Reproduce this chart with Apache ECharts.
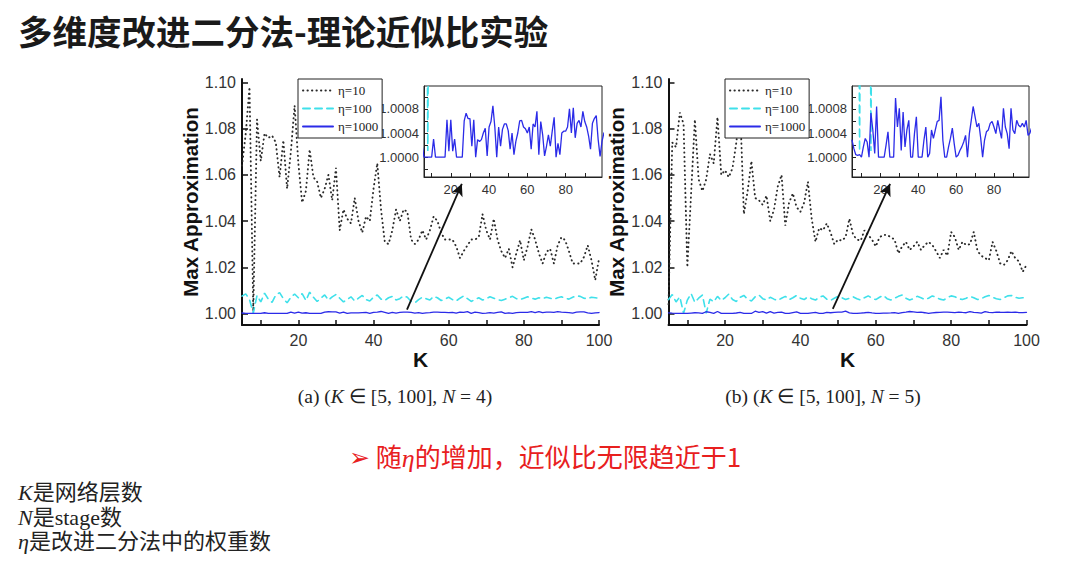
<!DOCTYPE html>
<html>
<head>
<meta charset="utf-8">
<script src="https://cdn.jsdelivr.net/npm/echarts@6/dist/echarts.min.js"></script>
<style>
  html,body{margin:0;padding:0;background:#fff;width:1080px;height:572px;overflow:hidden;}
  #chart{position:absolute;left:0;top:0;width:1080px;height:572px;}
  .t{position:absolute;white-space:nowrap;}
  #title{left:18px;top:10px;font:bold 34.5px "Noto Sans CJK SC",sans-serif;color:#1a1a1a;line-height:40px;}
  .cap{top:384px;font:19.5px "Liberation Serif",serif;color:#222;line-height:26px;transform:translateX(-50%);}
  .cap i{font-style:italic;}
  #red{left:349px;top:439px;font:26px "Noto Sans CJK SC",sans-serif;color:#e8201e;line-height:34px;}
  #red i{font-family:"Liberation Serif",serif;font-style:italic;}
  #red .b{font-size:25px;vertical-align:1px;font-family:"DejaVu Sans",sans-serif;}
  #notes{left:18px;top:481px;font:22px "Liberation Serif","Noto Sans CJK SC",serif;color:#222;line-height:24.5px;}
  #notes i{font-style:italic;}
</style>
</head>
<body>
<div id="chart"></div>
<div class="t" id="title">多维度改进二分法-理论近似比实验</div>
<div class="t cap" style="left:395px">(a) (<i>K</i> ∈ [5, 100], <i>N</i> = 4)</div>
<div class="t cap" style="left:823px">(b) (<i>K</i> ∈ [5, 100], <i>N</i> = 5)</div>
<div class="t" id="red"><span class="b">➢</span>&nbsp;随<i>η</i>的增加，近似比无限趋近于1</div>
<div class="t" id="notes"><i>K</i>是网络层数<br><i>N</i>是stage数<br><i>η</i>是改进二分法中的权重数</div>
<script>
// ---------- data ----------
const K = [5,6,7,8,9,10,11,12,13,14,15,16,17,18,19,20,21,22,23,24,25,26,27,28,29,30,
  31,32,33,34,35,36,37,38,39,40,41,42,43,44,45,46,47,48,49,50,51,52,53,54,55,56,57,58,59,60,
  61,62,63,64,65,66,67,68,69,70,71,72,73,74,75,76,77,78,79,80,81,82,83,84,85,86,87,88,89,90,
  91,92,93,94,95,96,97,98,99,100];

// (a) N = 4
const a_eta10 = [1.064,1.078,1.098,1.001,1.084,1.066,1.078,1.076,1.077,1.074,1.059,1.075,1.054,1.070,1.090,
  1.065,1.048,1.053,1.071,1.059,1.057,1.050,1.054,1.060,1.049,1.063,1.036,1.045,1.041,1.039,
  1.050,1.040,1.035,1.042,1.040,1.054,1.065,1.045,1.031,1.030,1.036,1.045,1.040,1.045,1.044,
  1.032,1.030,1.032,1.036,1.032,1.036,1.042,1.040,1.035,1.032,1.032,1.032,1.029,1.024,1.027,
  1.0295,1.032,1.032,1.033,1.043,1.036,1.032,1.041,1.032,1.027,1.024,1.028,1.020,1.026,1.0317,
  1.023,1.029,1.0364,1.032,1.026,1.0216,1.0266,1.028,1.0216,1.0295,1.033,1.0317,1.027,1.0216,
  1.0216,1.0216,1.0245,1.0295,1.023,1.0144,1.0237];
const a_eta100 = [1.0075,1.0085,1.0060,1.0001,1.0078,1.0050,1.0088,1.0062,1.0048,1.0080,1.0090,1.0064,1.0046,
  1.0070,1.0084,1.0068,1.0086,1.0056,1.0092,1.0070,1.0052,1.0066,1.0080,1.0058,1.0072,1.0082,
  1.0066,1.0050,1.0060,1.0072,1.0054,1.0066,1.0078,1.0060,1.0054,1.0070,1.0080,1.0062,1.0056,
  1.0068,1.0074,1.0058,1.0064,1.0076,1.0070,1.0052,1.0046,1.0060,1.0070,1.0064,1.0058,1.0074,
  1.0068,1.0056,1.0062,1.0070,1.0060,1.0054,1.0066,1.0076,1.0064,1.0052,1.0060,1.0068,1.0058,
  1.0064,1.0072,1.0066,1.0060,1.0056,1.0062,1.0068,1.0074,1.0064,1.0060,1.0066,1.0072,1.0066,
  1.0062,1.0068,1.0064,1.0070,1.0066,1.0062,1.0068,1.0072,1.0066,1.0062,1.0070,1.0076,1.0074,
  1.0066,1.0064,1.0070,1.0068,1.0066];
const a_eta1000 = [1.0002,1.0000,1.0000,1.0000,1.0000,1.0000,1.0003,1.0000,1.0000,1.0000,1.0000,1.0000,1.0000,
  1.00062,1.0001,1.00062,1.0001,1.0003,1.0000,1.0000,1.0000,1.0000,1.0006,1.00073,1.00064,1.00064,
  1.00018,1.00062,1.0000,1.00029,1.00026,1.00029,1.0004,1.00048,1.00002,1.0005,1.00059,1.00085,
  1.0005,1.0000,1.0005,1.00018,1.00046,1.00055,1.00055,1.00044,1.00013,1.0004,1.00004,1.00026,
  1.0004,1.0006,1.00061,1.0005,1.00047,1.0004,1.0005,1.00013,1.00055,1.0005,1.00076,1.00004,
  1.00059,1.00037,1.00002,1.00018,1.00037,1.00018,1.00043,1.00066,1.0000,1.00023,1.00004,1.0004,
  1.00043,1.00043,1.0005,1.0008,1.0004,1.00082,1.00032,1.00056,1.00061,1.0005,1.00076,1.00059,
  1.0005,1.00035,1.00013,1.00056,1.00064,1.00069,1.00029,1.00001,1.00026,1.0004];

// (b) N = 5
const b_eta10 = [1.004,1.074,1.072,1.087,1.082,1.020,1.052,1.084,1.058,1.053,1.058,1.069,1.065,1.085,1.060,
  1.062,1.059,1.063,1.074,1.090,1.043,1.053,1.066,1.050,1.049,1.047,1.051,1.040,1.045,1.055,
  1.060,1.038,1.048,1.052,1.046,1.044,1.048,1.057,1.041,1.031,1.037,1.036,1.039,1.035,1.030,
  1.032,1.0315,1.033,1.041,1.034,1.032,1.0315,1.036,1.034,1.032,1.029,1.033,1.034,1.034,1.033,
  1.032,1.026,1.029,1.031,1.0275,1.029,1.031,1.0275,1.0296,1.031,1.0296,1.027,1.024,1.0275,1.025,
  1.0353,1.033,1.0275,1.031,1.0296,1.030,1.0353,1.027,1.025,1.024,1.023,1.031,1.027,1.0217,
  1.021,1.023,1.027,1.024,1.0225,1.018,1.021];
const b_eta100 = [1.0060,1.0082,1.0050,1.0072,1.0001,1.0058,1.0086,1.0048,1.0066,1.0080,1.0001,1.0062,1.0050,
  1.0074,1.0056,1.0068,1.0084,1.0060,1.0052,1.0070,1.0078,1.0062,1.0054,1.0072,1.0080,1.0064,
  1.0058,1.0070,1.0062,1.0056,1.0066,1.0074,1.0060,1.0068,1.0078,1.0066,1.0060,1.0072,1.0064,
  1.0058,1.0070,1.0076,1.0062,1.0056,1.0066,1.0074,1.0068,1.0060,1.0066,1.0072,1.0064,1.0058,
  1.0068,1.0076,1.0066,1.0060,1.0070,1.0078,1.0064,1.0058,1.0066,1.0074,1.0080,1.0066,1.0058,
  1.0064,1.0074,1.0068,1.0060,1.0066,1.0076,1.0070,1.0062,1.0058,1.0068,1.0076,1.0072,1.0064,
  1.0060,1.0066,1.0074,1.0068,1.0060,1.0064,1.0072,1.0078,1.0070,1.0064,1.0060,1.0068,1.0076,
  1.0078,1.0070,1.0066,1.0068,1.0070];
const b_eta1000 = [1.00028,1.00014,1.00004,1.00003,1.00004,1.0000,1.00017,1.00031,1.00025,1.0000,1.00073,1.00045,
  1.00006,1.00084,1.0000,1.0000,1.0000,1.0000,1.0002,1.00042,1.0000,1.0000,1.0000,1.00098,1.0005,
  1.00081,1.00011,1.00075,1.00017,1.00045,1.00061,1.0000,1.0000,1.00039,1.00067,1.0000,1.0000,
  1.0000,1.00028,1.0005,1.0000,1.00006,1.00045,1.00031,1.00045,1.00059,1.00061,1.0010,1.00028,
  1.0000,1.0000,1.00017,1.00031,1.00048,1.00022,1.0000,1.00003,1.00011,1.00017,1.00025,1.00036,
  1.0000,1.00039,1.00061,1.00084,1.00067,1.0005,1.00056,1.00031,1.0000,1.00028,1.00042,1.00045,
  1.00056,1.00059,1.0005,1.00039,1.00061,1.00045,1.00031,1.00081,1.0005,1.00039,1.00014,1.00081,
  1.00045,1.00039,1.00061,1.00053,1.0005,1.00056,1.0005,1.00061,1.00036,1.0004,1.0005];

const seriesNames = ['η=10','η=100','η=1000'];
const mainYTicks = [1.00,1.02,1.04,1.06,1.08,1.10];
const mainXTicks = [10,20,30,40,50,60,70,80,90,100];
const mainXLabels = [20,40,60,80,100];
const insetYTicks = [0.9998,1.0000,1.0002,1.0004,1.0006,1.0008,1.0010];
const insetYLabels = [1.0000,1.0004,1.0008];
const insetXTicks = [10,20,30,40,50,60,70,80,90];
const insetXLabels = [20,40,60,80];
// arrow annotations (data coordinates of the main panels)
const arrowA = [[48.9,1.0017],[63.5,1.0561]];
const arrowB = [[48.6,1.0020],[63.8,1.0561]];

// ---------- chart ----------
const pairs = arr => K.map((k,i)=>[k,arr[i]]);
const C10 = '#2a2a2a', C100 = '#3fe0ea', C1000 = '#2b2be8';
const labelFont = {fontFamily:'"Liberation Sans",Arial,sans-serif', color:'#333'};

function mainX(gi){
  return {gridIndex:gi,type:'value',min:5,max:100,name:'K',nameLocation:'middle',nameGap:22,
    nameTextStyle:{fontFamily:'"Liberation Sans",Arial,sans-serif',fontWeight:'bold',fontSize:21,color:'#111'},
    axisLine:{show:true,onZero:false,lineStyle:{color:'#111',width:2}},
    axisTick:{show:true,inside:true,length:5,customValues:mainXTicks,lineStyle:{color:'#111',width:1.5}},
    axisLabel:Object.assign({customValues:mainXLabels,fontSize:16,margin:7},labelFont),
    splitLine:{show:false}};
}
function mainY(gi){
  return {gridIndex:gi,type:'value',min:0.995,max:1.1015,name:'Max Approximation',nameLocation:'middle',nameGap:39,
    nameTextStyle:{fontFamily:'"Liberation Sans",Arial,sans-serif',fontWeight:'bold',fontSize:20.5,color:'#111'},
    axisLine:{show:true,onZero:false,lineStyle:{color:'#111',width:2}},
    axisTick:{show:true,inside:true,length:6,customValues:mainYTicks,lineStyle:{color:'#111',width:1.5}},
    axisLabel:Object.assign({customValues:mainYTicks,fontSize:16,margin:6,formatter:v=>v.toFixed(2)},labelFont),
    splitLine:{show:false}};
}
function insetX(gi,mn,mx){
  return {gridIndex:gi,type:'value',min:mn,max:mx,
    axisLine:{show:true,onZero:false,lineStyle:{color:'#222',width:1}},
    axisTick:{show:true,inside:true,length:4,customValues:insetXTicks,lineStyle:{color:'#222'}},
    axisLabel:Object.assign({customValues:insetXLabels,fontSize:13,margin:6},labelFont),
    splitLine:{show:false}};
}
function insetY(gi){
  return {gridIndex:gi,type:'value',min:0.99967,max:1.00118,
    axisLine:{show:true,onZero:false,lineStyle:{color:'#222',width:1}},
    axisTick:{show:true,inside:true,length:4,customValues:insetYTicks,lineStyle:{color:'#222'}},
    axisLabel:Object.assign({customValues:insetYLabels,fontSize:13,margin:5,formatter:v=>v.toFixed(4)},labelFont),
    splitLine:{show:false}};
}
function line(name,data,xi,color,type,width,extra){
  return Object.assign({type:'line',name:name,xAxisIndex:xi,yAxisIndex:xi,data:pairs(data),
    symbol:'none',silent:true,animation:false,
    lineStyle:{color:color,type:type,width:width,cap:'round'},itemStyle:{color:color}},extra||{});
}
function arrow(coords){
  return {silent:true,animation:false,symbol:['none','arrow'],symbolSize:[9,12],
    label:{show:false},lineStyle:{color:'#111',type:'solid',width:1.8},
    data:[[{coord:coords[0]},{coord:coords[1]}]]};
}
function legend(left){
  return {left:left,top:79,orient:'vertical',data:seriesNames,
    backgroundColor:'#fff',borderColor:'#222',borderWidth:1,padding:[5,4,5,4],
    itemWidth:30,itemHeight:12,itemGap:5,selectedMode:false,
    itemStyle:{opacity:0},
    textStyle:{fontFamily:'"Liberation Serif",serif',fontSize:13,color:'#222'}};
}

const dot = [0.3,4.2], dash = [7,5];
const option = {
  animation:false,
  legend:[legend(298), legend(725)],
  grid:[
    {left:242,top:79,width:357,height:246},
    {left:668.5,top:79,width:358,height:246},
    {left:424,top:86,width:178,height:91,show:true,borderColor:'#222',borderWidth:1,backgroundColor:'#fff'},
    {left:852,top:86,width:177,height:91,show:true,borderColor:'#222',borderWidth:1,backgroundColor:'#fff'}
  ],
  xAxis:[mainX(0),mainX(1),insetX(2,6,99),insetX(3,5,98.5)],
  yAxis:[mainY(0),mainY(1),insetY(2),insetY(3)],
  series:[
    line(seriesNames[0],a_eta10,0,C10,dot,1.9),
    line(seriesNames[1],a_eta100,0,C100,dash,1.6),
    line(seriesNames[2],a_eta1000,0,C1000,'solid',1.3,{markLine:arrow(arrowA)}),
    line(seriesNames[0],b_eta10,1,C10,dot,1.9),
    line(seriesNames[1],b_eta100,1,C100,dash,1.6),
    line(seriesNames[2],b_eta1000,1,C1000,'solid',1.3,{markLine:arrow(arrowB)}),
    line(seriesNames[1],a_eta100,2,C100,dash,1.6,{z:5}),
    line(seriesNames[2],a_eta1000,2,C1000,'solid',1.3,{z:6}),
    line(seriesNames[1],b_eta100,3,C100,dash,1.6,{z:5}),
    line(seriesNames[2],b_eta1000,3,C1000,'solid',1.3,{z:6})
  ]
};
const chart = echarts.init(document.getElementById('chart'),null,{renderer:'svg'});
chart.setOption(option);
</script>
</body>
</html>
